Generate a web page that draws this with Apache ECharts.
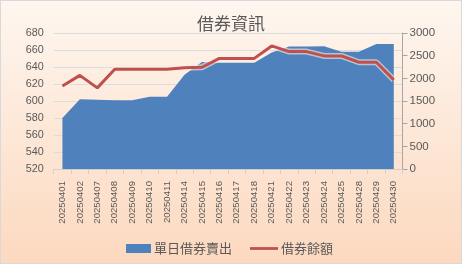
<!DOCTYPE html>
<html><head><meta charset="utf-8">
<script src="https://cdn.jsdelivr.net/npm/echarts@6/dist/echarts.min.js"></script>
<style>
html,body{margin:0;padding:0;background:#fff;}
#c{width:462px;height:264px;box-sizing:border-box;border:1px solid #d9d9d9;
background:linear-gradient(to bottom,#fef6ef 0%,#fde9da 45%,#fcd9bf 100%);}
</style></head>
<body><div id="c"></div>
<script>
const categories = ['20250401','20250402','20250407','20250408','20250409','20250410','20250411','20250414','20250415','20250416','20250417','20250418','20250421','20250422','20250423','20250424','20250425','20250428','20250429','20250430'];
const dailyShortSell = [580,602,601.5,601,601,605,605,631,646,645,645,645,657,664,664,664.5,658,658,667,667];
const lendingBalance = [1830,2065,1790,2200,2200,2200,2200,2235,2245,2440,2440,2440,2715,2590,2590,2495,2495,2355,2355,1965];
const leftTicks = {min:520,max:680,interval:20};
const rightTicks = {min:0,max:3000,interval:500};
const seriesNames = ['單日借券賣出','借券餘額'];
</script>
<script>
const chart = echarts.init(document.getElementById('c'), null, {renderer:'canvas'});
const txt = '#595959';
const cjk = '"Noto Sans CJK TC","Noto Sans CJK SC",sans-serif';
const legText = {fontFamily:cjk,fontSize:13,color:txt,padding:[0,0,0,-2]};
chart.setOption({
  animation:false,
  title:{text:'借券資訊',left:'center',top:9,textStyle:{fontFamily:cjk,fontSize:17,fontWeight:'normal',color:txt}},
  grid:{left:52.7,right:58.5,top:32,bottom:94},
  legend:[
    {left:120,top:236,itemWidth:25,itemHeight:9,textStyle:legText,
     data:[{name:seriesNames[0],icon:'rect'}]},
    {left:244,top:236,itemWidth:28,itemHeight:9,textStyle:legText,
     data:[{name:seriesNames[1],icon:'path://M0,0H30V3H0Z',itemStyle:{color:'#c0504d'}}],
     itemStyle:{}}
  ],
  xAxis:{type:'category',data:categories,boundaryGap:true,
    axisLine:{lineStyle:{color:'#d0d0d0',width:1}},
    axisTick:{show:true,length:5,lineStyle:{color:'#d0d0d0'}},
    axisLabel:{rotate:90,interval:0,margin:12,fontFamily:'"Liberation Sans",sans-serif',fontSize:9.6,color:txt}},
  yAxis:[
    {type:'value',min:leftTicks.min,max:leftTicks.max,interval:leftTicks.interval,
     axisLine:{show:false},axisTick:{show:false},
     splitLine:{lineStyle:{color:'#dcdcdc',width:1}},
     axisLabel:{margin:10,fontFamily:'"Liberation Sans",sans-serif',fontSize:10.8,color:txt}},
    {type:'value',min:rightTicks.min,max:rightTicks.max,interval:rightTicks.interval,position:'right',
     axisLine:{show:true,lineStyle:{color:'#a6a6a6'}},
     axisTick:{show:true,length:5,lineStyle:{color:'#a6a6a6'}},
     splitLine:{show:false},
     axisLabel:{margin:7,formatter:v=>String(v),fontFamily:'"Liberation Sans",sans-serif',fontSize:11.5,color:txt}}
  ],
  series:[
    {name:seriesNames[0],type:'line',yAxisIndex:0,data:dailyShortSell,symbol:'none',
     lineStyle:{width:0},itemStyle:{color:'#4f81bd'},areaStyle:{color:'#4f81bd',opacity:1},z:2},
    {name:'_glow',type:'line',yAxisIndex:1,data:lendingBalance,symbol:'none',silent:true,
     lineStyle:{width:6,color:'rgba(255,238,225,0.6)'},itemStyle:{color:'rgba(255,238,225,0.6)'},z:3},
    {name:seriesNames[1],type:'line',yAxisIndex:1,data:lendingBalance,symbol:'none',
     lineStyle:{width:3,color:'#c0504d'},itemStyle:{color:'#c0504d'},z:4}
  ]
});
</script>
</body></html>
